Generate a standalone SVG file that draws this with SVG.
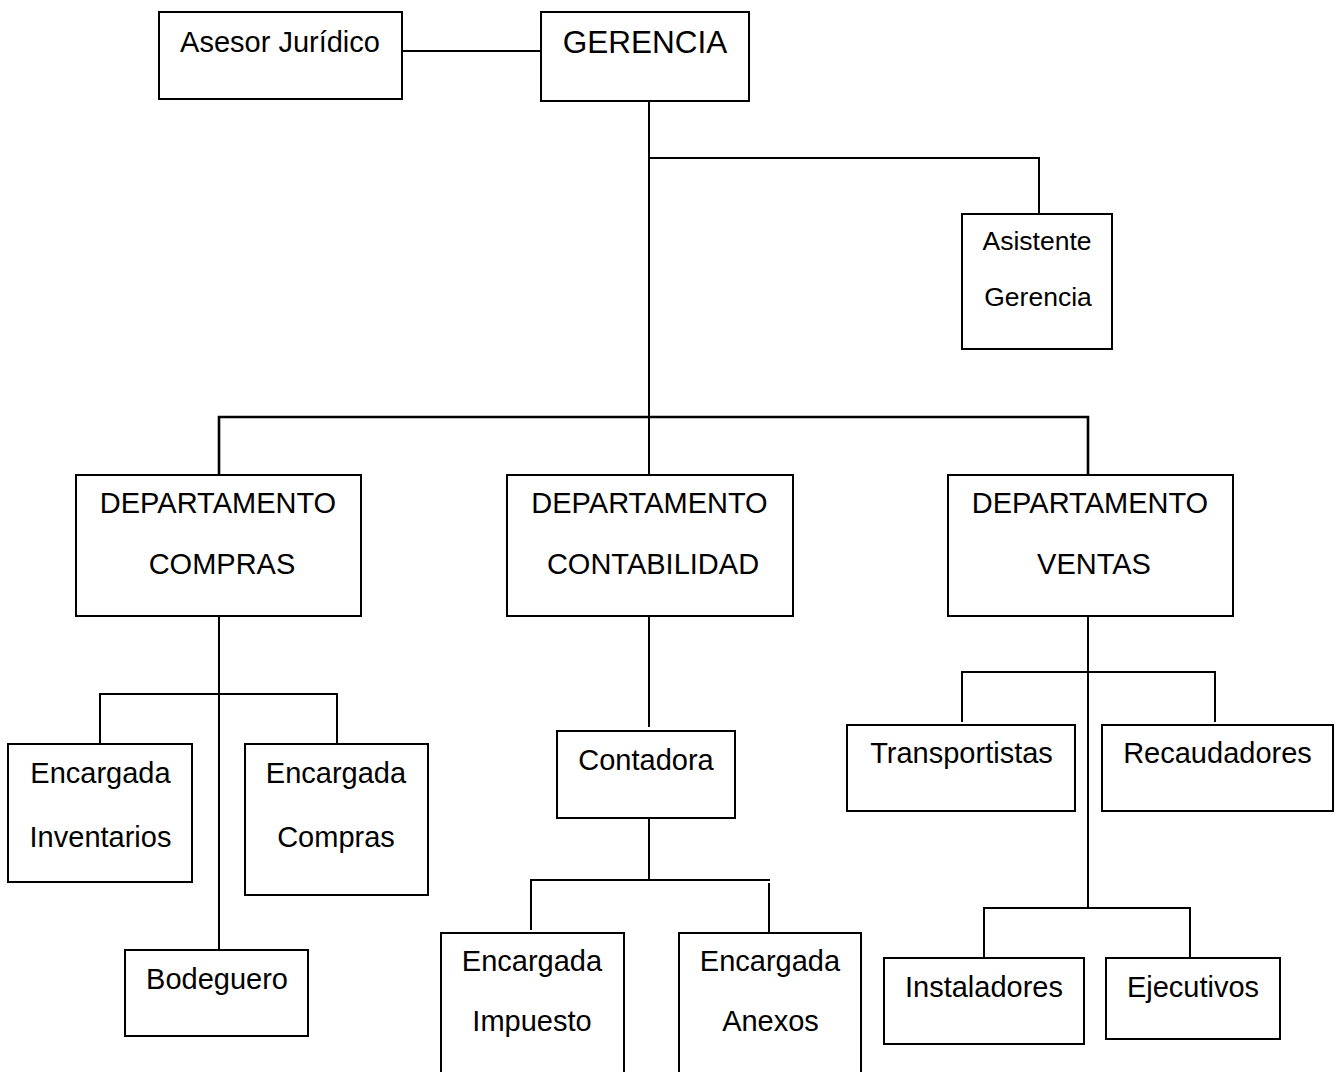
<svg xmlns="http://www.w3.org/2000/svg" width="1339" height="1072" viewBox="0 0 1339 1072">
  <style>
    .box { fill: #fff; stroke: #000; stroke-width: 2; }
    .wire { fill: none; stroke: #000; stroke-width: 2; }
    .bar { stroke-width: 2.6; }
    text { font-family: "Liberation Sans", Arial, sans-serif; font-size: 29px; fill: #000; text-anchor: middle; }
    .big { font-size: 31.5px; }
    .small { font-size: 26.5px; }
  </style>
  <rect width="1339" height="1072" fill="#fff"/>

  <!-- connectors -->
  <g id="connectors">
    <path class="wire" d="M402 51 H541"/>
    <path class="wire" d="M649 101 V475"/>
    <path class="wire" d="M649 158 H1039 V214"/>
    <path class="wire bar" d="M219 475 V417 H1088 V475"/>
    <!-- compras -->
    <path class="wire" d="M219 616 V950"/>
    <path class="wire" d="M100 744 V694 H337 V744"/>
    <!-- contabilidad -->
    <path class="wire" d="M649 616 V727"/>
    <path class="wire" d="M649 816 V880"/>
    <path class="wire" d="M531 930 V880 H770"/>
    <path class="wire" d="M769 883 V933"/>
    <!-- ventas -->
    <path class="wire" d="M1088 616 V908"/>
    <path class="wire" d="M962 722 V672 H1215 V722"/>
    <path class="wire" d="M984 958 V908 H1190 V958"/>
  </g>

  <g id="asesor">
    <rect class="box" x="159" y="12" width="243" height="87"/>
    <text x="280" y="51.5">Asesor Jurídico</text>
  </g>
  <g id="gerencia">
    <rect class="box" x="541" y="12" width="208" height="89"/>
    <text class="big" x="645" y="52.5">GERENCIA</text>
  </g>
  <g id="asistente">
    <rect class="box" x="962" y="214" width="150" height="135"/>
    <text class="small" x="1037" y="249.5">Asistente</text>
    <text class="small" x="1038" y="306">Gerencia</text>
  </g>

  <g id="dep-compras">
    <rect class="box" x="76" y="475" width="285" height="141"/>
    <text x="218" y="512.5">DEPARTAMENTO</text>
    <text x="222" y="573.5">COMPRAS</text>
  </g>
  <g id="dep-contabilidad">
    <rect class="box" x="507" y="475" width="286" height="141"/>
    <text x="649.5" y="512.5">DEPARTAMENTO</text>
    <text x="653" y="573.5">CONTABILIDAD</text>
  </g>
  <g id="dep-ventas">
    <rect class="box" x="948" y="475" width="285" height="141"/>
    <text x="1090" y="512.5">DEPARTAMENTO</text>
    <text x="1094" y="573.5">VENTAS</text>
  </g>

  <g id="enc-inventarios">
    <rect class="box" x="8" y="744" width="184" height="138"/>
    <text x="100.5" y="782.5">Encargada</text>
    <text x="100.5" y="846.5">Inventarios</text>
  </g>
  <g id="enc-compras">
    <rect class="box" x="245" y="744" width="183" height="151"/>
    <text x="336" y="782.5">Encargada</text>
    <text x="336" y="846.5">Compras</text>
  </g>
  <g id="bodeguero">
    <rect class="box" x="125" y="950" width="183" height="86"/>
    <text x="217" y="988.5">Bodeguero</text>
  </g>

  <g id="contadora">
    <rect class="box" x="557" y="731" width="178" height="87"/>
    <text x="646" y="769.5">Contadora</text>
  </g>
  <g id="enc-impuesto">
    <rect class="box" x="441" y="933" width="183" height="150"/>
    <text x="532" y="971">Encargada</text>
    <text x="532" y="1031">Impuesto</text>
  </g>
  <g id="enc-anexos">
    <rect class="box" x="679" y="933" width="182" height="150"/>
    <text x="770" y="971">Encargada</text>
    <text x="770.5" y="1031">Anexos</text>
  </g>

  <g id="transportistas">
    <rect class="box" x="847" y="725" width="228" height="86"/>
    <text x="961.5" y="762.5">Transportistas</text>
  </g>
  <g id="recaudadores">
    <rect class="box" x="1102" y="725" width="231" height="86"/>
    <text x="1217.5" y="762.5">Recaudadores</text>
  </g>
  <g id="instaladores">
    <rect class="box" x="884" y="958" width="200" height="86"/>
    <text x="984" y="996.5">Instaladores</text>
  </g>
  <g id="ejecutivos">
    <rect class="box" x="1106" y="958" width="174" height="81"/>
    <text x="1193" y="996.5">Ejecutivos</text>
  </g>
</svg>
